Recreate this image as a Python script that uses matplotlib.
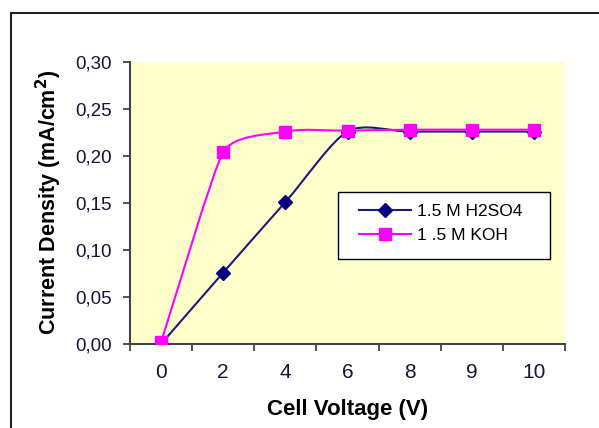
import matplotlib
matplotlib.use("Agg")
import matplotlib.pyplot as plt
import numpy as np
from matplotlib.path import Path
from matplotlib.patches import PathPatch, Rectangle
from matplotlib.lines import Line2D

plt.rcParams['font.family'] = ['Liberation Sans', 'DejaVu Sans']

categories = ["0", "2", "4", "6", "8", "9", "10"]
h2so4 = [0.000, 0.076, 0.151, 0.226, 0.226, 0.226, 0.226]
koh = [0.002, 0.204, 0.226, 0.227, 0.228, 0.228, 0.228]
yticks = [0.00, 0.05, 0.10, 0.15, 0.20, 0.25, 0.30]
ytick_labels = ["0,00", "0,05", "0,10", "0,15", "0,20", "0,25", "0,30"]

W, H = 599, 428
fig = plt.figure(figsize=(W / 100, H / 100), dpi=100)
fig.patches.append(Rectangle((11 / W, -0.1), 1.2, (1 - 13 / H) + 0.1, transform=fig.transFigure,
                             fill=False, edgecolor='#222222', linewidth=1.5))
ax_l, ax_r, ax_t, ax_b = 130, 565, 62, 344
ax = fig.add_axes([ax_l / W, (H - ax_b) / H, (ax_r - ax_l) / W, (ax_b - ax_t) / H])
ax.set_facecolor('#FFFFCC')

xlim = (-0.5, len(categories) - 0.5)
ylim = (0, 0.30)
sx = (ax_r - ax_l) / (xlim[1] - xlim[0])
sy = (ax_b - ax_t) / (ylim[1] - ylim[0])

def smooth_path(xs, ys):
    # Excel-like smoothed line: Bezier segments; tangent at each point limited
    # by the shorter of its two neighbouring segments (pixel space)
    pts = np.column_stack([np.asarray(xs, float) * sx, np.asarray(ys, float) * sy])
    n = len(pts)
    tang = []
    for i in range(n):
        pp = pts[i - 1] if i > 0 else pts[i]
        pn = pts[i + 1] if i + 1 < n else pts[i]
        dp = np.hypot(*(pts[i] - pp))
        dn = np.hypot(*(pn - pts[i]))
        if dp == 0 or dn == 0:
            f = 1.0
        else:
            f = 2 * min(dp, dn) / (dp + dn)
        tang.append((pn - pp) / 6.0 * f)
    verts = [pts[0]]
    codes = [Path.MOVETO]
    for i in range(n - 1):
        verts += [pts[i] + tang[i], pts[i + 1] - tang[i + 1], pts[i + 1]]
        codes += [Path.CURVE4] * 3
    v = np.array(verts)
    v[:, 0] /= sx
    v[:, 1] /= sy
    return Path(v, codes)

x = np.arange(len(categories))
navy = '#1B1B78'
mag = '#FF00FF'
ax.add_patch(PathPatch(smooth_path(x, h2so4), fill=False, edgecolor=navy, linewidth=1.5, zorder=3))
ax.plot(x, h2so4, linestyle='none', marker='D', markersize=7, color='#000080', zorder=4)
ax.add_patch(PathPatch(smooth_path(x, koh), fill=False, edgecolor=mag, linewidth=1.5, zorder=5))
ax.plot(x, koh, linestyle='none', marker='s', markersize=8, color=mag, zorder=6)

ax.set_xlim(*xlim)
ax.set_ylim(*ylim)
tick_color = '#15153a'
ax.set_yticks(yticks)
ax.set_yticklabels(ytick_labels, fontsize=13.5, color=tick_color)
ax.set_xticks(x)
ax.set_xticklabels(categories, fontsize=15, color=tick_color)
ax.set_xticks(np.arange(len(categories) + 1) - 0.5, minor=True)
ax.tick_params(axis='x', which='major', length=0, pad=14)
ax.tick_params(axis='x', which='minor', length=5, direction='out', color='#333333', width=1.2)
ax.tick_params(axis='y', length=5, direction='out', color='#333333', width=1.2, pad=8)
for s in ['top', 'right']:
    ax.spines[s].set_visible(False)
for s in ['left', 'bottom']:
    ax.spines[s].set_color('#444444')
    ax.spines[s].set_linewidth(1.5)

ax.set_xlabel("Cell Voltage (V)", fontsize=16, fontweight='bold', va='center')
ax.xaxis.set_label_coords(((ax_l + ax_r) / 2 - ax_l) / (ax_r - ax_l), (ax_b - 410) / (ax_b - ax_t))
ax.set_ylabel("Current Density (mA/cm$^\\mathbf{2}$)", fontsize=15.5, fontweight='bold', va='center')
ax.yaxis.set_label_coords((49 - ax_l) / (ax_r - ax_l), (ax_b - 202) / (ax_b - ax_t))

# legend
lx0, lx1, ly0, ly1 = 338, 550, 192, 259
ax.add_patch(Rectangle(((lx0 - ax_l) / (ax_r - ax_l), (ax_b - ly1) / (ax_b - ax_t)),
                       (lx1 - lx0) / (ax_r - ax_l), (ly1 - ly0) / (ax_b - ax_t),
                       transform=ax.transAxes, facecolor='white', edgecolor='black',
                       linewidth=1.0, zorder=7))
handles = [Line2D([], [], color=navy, marker='D', markersize=7, markerfacecolor='#000080', markeredgecolor='#000080', linewidth=1.5),
           Line2D([], [], color=mag, marker='s', markersize=8, linewidth=1.5)]
leg = ax.legend(handles, ["1.5 M H2SO4", "1 .5 M KOH"], loc='center left',
                bbox_to_anchor=((359 - ax_l) / (ax_r - ax_l), (ax_b - 223.5) / (ax_b - ax_t)),
                fontsize=12.5, frameon=False, borderpad=0, borderaxespad=0,
                handlelength=3.0, labelspacing=0.55, handletextpad=0.35)
leg.set_zorder(8)

fig.savefig("out.png", dpi=100)
